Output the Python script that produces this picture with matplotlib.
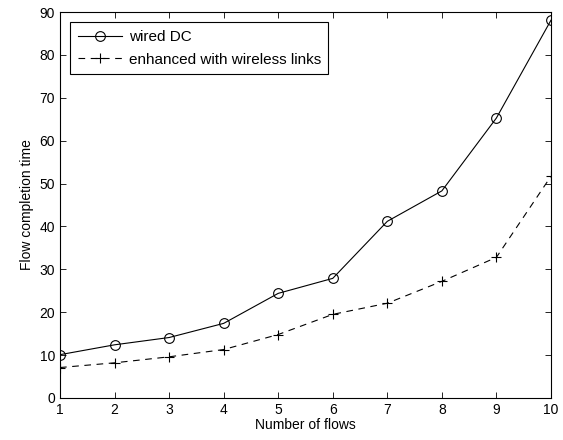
import matplotlib
matplotlib.use("Agg")
import matplotlib.pyplot as plt
import numpy as np

plt.rcParams['font.family'] = ['Liberation Sans', 'DejaVu Sans']

flows = np.arange(1, 11)
wired_dc = [10.1, 12.4, 14.1, 17.4, 24.4, 27.9, 41.2, 48.3, 65.3, 88.1]
wireless = [7.1, 8.2, 9.6, 11.3, 14.8, 19.5, 22.1, 27.2, 32.8, 51.7]

fig = plt.figure(figsize=(5.63, 4.40), dpi=100)
ax = fig.add_axes([0.1066, 0.0955, 0.872, 0.877])

ax.plot(flows, wired_dc, '-', color='black', lw=0.8, marker='o', ms=7,
        mfc='none', mec='black', mew=0.8, label='wired DC')
ax.plot(flows, wireless, '--', color='black', lw=0.8, marker='+', ms=7,
        mew=0.8, dashes=(6, 5), label='enhanced with wireless links')

ax.set_xlim(1, 10)
ax.set_ylim(0, 90)
ax.set_xticks(flows)
ax.set_yticks(np.arange(0, 91, 10))
ax.tick_params(direction='in', top=True, right=True, labelsize=10, length=4, width=0.6)
for s in ax.spines.values():
    s.set_linewidth(0.8)

ax.set_xlabel('Number of flows', fontsize=10, labelpad=1)
ax.set_ylabel('Flow completion time', fontsize=10, labelpad=4)

leg = ax.legend(loc='upper left', fontsize=11, fancybox=False, edgecolor='black',
                framealpha=1, bbox_to_anchor=(0.012, 0.985), borderaxespad=0.3,
                handlelength=2.9, handletextpad=0.4, labelspacing=0.55,
                borderpad=0.5)
leg.get_frame().set_linewidth(0.8)

fig.savefig('out.png', dpi=100)
